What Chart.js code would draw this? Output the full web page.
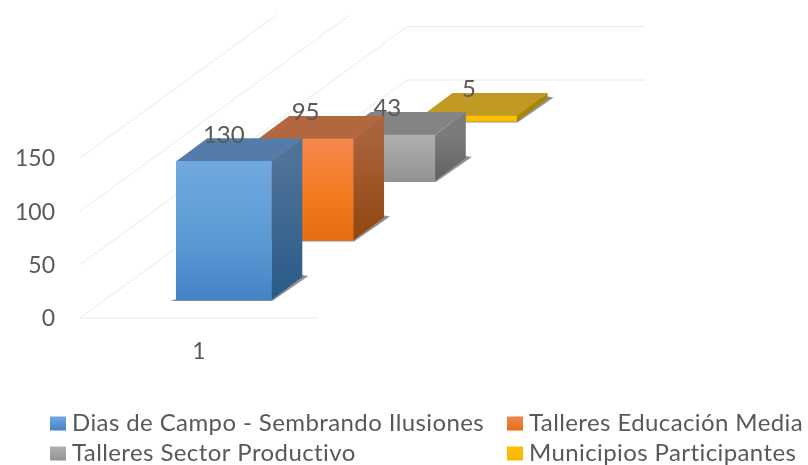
<!DOCTYPE html>
<html>
<head>
<meta charset="utf-8">
<style>
  html, body { margin: 0; padding: 0; background: #fff; }
  #chart-wrap { width: 808px; height: 465px; }
</style>
<script src="https://cdn.jsdelivr.net/npm/chart.js@4"></script>
</head>
<body>
<div id="chart-wrap"><canvas id="chart"></canvas></div>
<script>
const categories = ['1'];
const seriesNames = ['Dias de Campo - Sembrando Ilusiones', 'Talleres Educación Media', 'Talleres Sector Productivo', 'Municipios Participantes'];
const seriesValues = [130, 95, 43, 5];
const yTicks = [0, 50, 100, 150];

const frontTop = ['#72a8e0', '#f4884e', '#b0b0b0', '#ffc000'];
const frontMid = ['#5b9bd5', '#f47a20', '#a0a0a0', '#ffc000'];
const frontBottom = ['#4484c6', '#e56c12', '#939393', '#f5b800'];
const topFaces = ['#557ca9', '#b2673e', '#848484', '#c09a25'];
const sideTop = ['#4e7298', '#a9623a', '#7b7b7b', '#a88600'];
const sideBottom = ['#295a89', '#8f4610', '#616161', '#947500'];

const textColor = '#595959';
const gridColor = '#e8e8e8';
const font = 'Lato';

// the floor runs back from the front axis, each series sits in its own slot
const floorDepthX = 327;
const floorDepthY = -238;
const firstSlotX = 24.8;
const slotStepX = 81.75;
const boxDepthX = 31;
const boxDepthY = -23;
const wallTop = 15;

function slotOffset(i) {
  const dx = firstSlotX + slotStepX * i;
  return { x: dx, y: dx * floorDepthY / floorDepthX };
}

function poly(ctx, pts, fill) {
  ctx.beginPath();
  ctx.moveTo(pts[0][0], pts[0][1]);
  pts.slice(1).forEach(p => ctx.lineTo(p[0], p[1]));
  ctx.closePath();
  ctx.fillStyle = fill;
  ctx.fill();
}

const depthBars = {
  id: 'depthBars',
  beforeDatasetsDraw(chart) {
    const ctx = chart.ctx;
    const area = chart.chartArea;
    const y = chart.scales.y;
    ctx.save();
    ctx.beginPath();
    ctx.rect(0, wallTop, chart.width, chart.height - wallTop);
    ctx.clip();
    ctx.strokeStyle = gridColor;
    ctx.lineWidth = 1;
    yTicks.forEach(t => {
      const py = y.getPixelForValue(t);
      ctx.beginPath();
      if (t === 0) {
        ctx.moveTo(area.right, py);
        ctx.lineTo(area.left, py);
      } else {
        ctx.moveTo(area.left, py);
      }
      ctx.lineTo(area.left + floorDepthX, py + floorDepthY);
      ctx.lineTo(area.right + floorDepthX, py + floorDepthY);
      ctx.stroke();
    });
    ctx.restore();
  },
  beforeDatasetDraw(chart, args) {
    const i = args.index;
    const ctx = chart.ctx;
    const bar = chart.getDatasetMeta(i).data[0];
    const off = slotOffset(i);
    const left = bar.x - bar.width / 2;
    const right = bar.x + bar.width / 2;
    ctx.save();
    ctx.translate(off.x, off.y);
    poly(ctx, [
      [left - 6, bar.base + 1],
      [right + 1, bar.base + 1],
      [right + boxDepthX + 6, bar.base + boxDepthY - 1],
      [right + boxDepthX, bar.base + boxDepthY - 2],
      [left, bar.base - 1]
    ], 'rgba(70,70,70,0.6)');
    const side = ctx.createLinearGradient(0, bar.y, 0, bar.base);
    side.addColorStop(0, sideTop[i]);
    side.addColorStop(1, sideBottom[i]);
    poly(ctx, [
      [right, bar.y],
      [right + boxDepthX, bar.y + boxDepthY],
      [right + boxDepthX, bar.base + boxDepthY],
      [right, bar.base]
    ], side);
    poly(ctx, [
      [left, bar.y],
      [left + boxDepthX, bar.y + boxDepthY],
      [right + boxDepthX, bar.y + boxDepthY],
      [right, bar.y]
    ], topFaces[i]);
  },
  afterDatasetDraw(chart) {
    chart.ctx.restore();
  },
  afterDatasetsDraw(chart) {
    const ctx = chart.ctx;
    ctx.save();
    ctx.font = '24px ' + font;
    ctx.fillStyle = textColor;
    ctx.textAlign = 'center';
    ctx.textBaseline = 'middle';
    seriesValues.forEach((v, i) => {
      const bar = chart.getDatasetMeta(i).data[0];
      const off = slotOffset(i);
      ctx.fillText(String(v), bar.x + off.x, bar.y + off.y - 26.5);
    });
    ctx.restore();
  },
  afterDraw(chart) {
    // two column legend, the built-in one can't line its columns up
    const ctx = chart.ctx;
    const colX = [50, 507];
    const rowY = [423.5, 453.5];
    ctx.save();
    ctx.font = '24px ' + font;
    ctx.textBaseline = 'middle';
    ctx.letterSpacing = '0.4px';
    seriesNames.forEach((name, i) => {
      const x = colX[i % 2];
      const y = rowY[Math.floor(i / 2)];
      const g = ctx.createLinearGradient(0, y - 7, 0, y + 7);
      g.addColorStop(0, frontTop[i]);
      g.addColorStop(1, frontBottom[i]);
      ctx.fillStyle = g;
      ctx.fillRect(x, y - 7, 16, 14);
      ctx.fillStyle = textColor;
      ctx.fillText(name, x + 22, y);
    });
    ctx.restore();
  }
};

const datasets = seriesNames.map((name, i) => ({
  label: name,
  data: [seriesValues[i]],
  clip: false,
  barThickness: 95,
  grouped: false,
  backgroundColor(c) {
    const y = c.chart.scales.y;
    if (!y || c.raw === undefined) return frontMid[i];
    const y0 = y.getPixelForValue(c.raw);
    const y1 = y.getPixelForValue(0);
    if (!isFinite(y0) || !isFinite(y1)) return frontMid[i];
    const g = c.chart.ctx.createLinearGradient(0, y0, 0, y1);
    g.addColorStop(0, frontTop[i]);
    g.addColorStop(0.55, frontMid[i]);
    g.addColorStop(1, frontBottom[i]);
    return g;
  }
}));

const depthChart = new Chart(document.querySelector('#chart'), {
  type: 'bar',
  data: { labels: categories, datasets: datasets },
  plugins: [depthBars],
  options: {
    responsive: true,
    maintainAspectRatio: false,
    animation: false,
    layout: { padding: { left: 0, right: 490, top: 158, bottom: 0 } },
    plugins: {
      legend: { display: false },
      tooltip: { enabled: false }
    },
    scales: {
      x: {
        afterFit(s) { s.height = 147; },
        grid: { display: false },
        border: { display: false },
        ticks: { color: textColor, font: { family: font, size: 23 }, padding: 12 }
      },
      y: {
        min: 0,
        max: 150,
        afterFit(s) { s.width = 80; },
        grid: { display: false },
        border: { display: false },
        ticks: { stepSize: 50, color: textColor, font: { family: font, size: 23 }, padding: 17, labelOffset: 1 }
      }
    }
  }
});
</script>
</body>
</html>
